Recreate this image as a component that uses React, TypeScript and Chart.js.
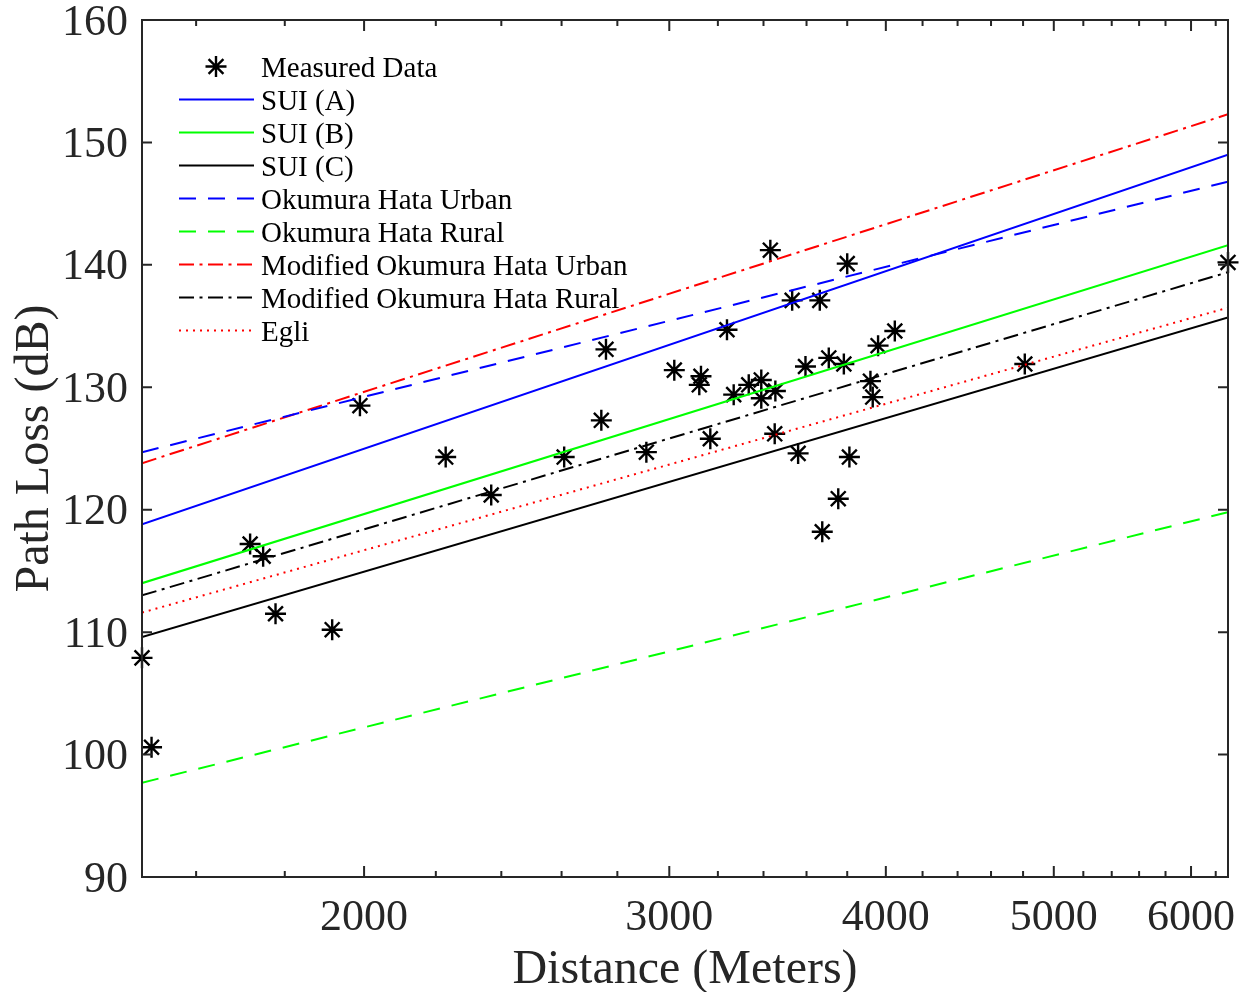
import React, { useEffect, useRef } from "react";
import { Chart, registerables } from "chart.js";

Chart.register(...registerables);

// ---------- data ----------
const distances = [
  1489, 1508, 1719, 1749, 1778, 1917, 1989, 2229, 2368, 2609, 2741, 2758, 2910, 3020,
  3122, 3129, 3168, 3239, 3268, 3334, 3390, 3390, 3454, 3451, 3431, 3532, 3560, 3595,
  3664, 3676, 3708, 3755, 3783, 3800, 3811, 3919, 3931, 3959, 4048, 4811, 6302,
];
const measuredLoss = [
  107.9, 100.6, 117.2, 116.2, 111.5, 110.2, 128.5, 124.3, 121.2, 124.3, 127.3, 133.1, 124.7, 131.4,
  130.2, 130.9, 125.8, 134.7, 129.4, 130.2, 130.6, 129.1, 129.7, 126.2, 141.2, 137.1, 124.6, 131.7,
  137.1, 118.2, 132.4, 120.9, 131.9, 140.1, 124.3, 130.5, 129.2, 133.4, 134.6, 131.9, 140.2,
];

const modelDistances = [1489, 6302];
const suiA = [118.8, 149.0];
const suiB = [114.0, 141.6];
const suiC = [109.6, 135.7];
const okumuraUrban = [124.7, 146.8];
const okumuraRural = [97.7, 119.8];
const modOkumuraUrban = [123.8, 152.3];
const modOkumuraRural = [113.0, 139.4];
const egli = [111.6, 136.5];

const xMajorTicks = [2000, 3000, 4000, 5000, 6000];
const xMinorTicks = [1600, 1800, 2200, 2400, 2600, 2800, 3200, 3400, 3600, 3800, 4200, 4400, 4600, 4800, 5200, 5400, 5600, 5800, 6200];
const yTicks = [90, 100, 110, 120, 130, 140, 150, 160];

const FONT = '"Liberation Serif", "Times New Roman", serif';
const AXIS_COLOR = "#262626";

const DASHED = [17, 12];
const DASH_DOT = [15, 5.5, 3, 5.5];
const DOTTED = [2, 5];

function drawAsterisk(ctx: CanvasRenderingContext2D, x: number, y: number, r: number) {
  const d = r * Math.SQRT1_2;
  ctx.beginPath();
  ctx.moveTo(x - r, y); ctx.lineTo(x + r, y);
  ctx.moveTo(x, y - r); ctx.lineTo(x, y + r);
  ctx.moveTo(x - d, y - d); ctx.lineTo(x + d, y + d);
  ctx.moveTo(x - d, y + d); ctx.lineTo(x + d, y - d);
  ctx.stroke();
}

const framePlugin = {
  id: "matlabFrame",
  afterDraw(chart: any) {
    const { ctx, chartArea } = chart;
    const { left, right, top, bottom } = chartArea;
    const xs = chart.scales.x;
    const ys = chart.scales.y;
    ctx.save();
    ctx.strokeStyle = AXIS_COLOR;
    ctx.lineWidth = 2;
    ctx.setLineDash([]);
    ctx.beginPath();
    const addX = (v: number, len: number) => {
      const px = xs.getPixelForValue(v);
      ctx.moveTo(px, bottom); ctx.lineTo(px, bottom - len);
      ctx.moveTo(px, top); ctx.lineTo(px, top + len);
    };
    xMajorTicks.forEach((v) => addX(v, 11));
    xMinorTicks.forEach((v) => addX(v, 6));
    yTicks.forEach((v) => {
      const py = ys.getPixelForValue(v);
      ctx.moveTo(left, py); ctx.lineTo(left + 10, py);
      ctx.moveTo(right, py); ctx.lineTo(right - 10, py);
    });
    ctx.stroke();
    ctx.strokeRect(left, top, right - left, bottom - top);
    ctx.restore();
  },
};

const LEGEND_FIRST_ROW = 67.5;
const LEGEND_ROW_STEP = 33;

const legendPlugin = {
  id: "matlabLegend",
  afterDraw(chart: any) {
    const ctx = chart.ctx as CanvasRenderingContext2D;
    ctx.save();
    ctx.font = `29px ${FONT}`;
    ctx.textBaseline = "middle";
    ctx.textAlign = "left";
    chart.data.datasets.forEach((ds: any, i: number) => {
      const yc = LEGEND_FIRST_ROW + i * LEGEND_ROW_STEP;
      if (ds.showLine === false) {
        ctx.strokeStyle = ds.borderColor;
        ctx.lineWidth = ds.pointBorderWidth;
        ctx.setLineDash([]);
        drawAsterisk(ctx, 216, yc - 1, ds.pointRadius);
      } else {
        ctx.strokeStyle = ds.borderColor;
        ctx.lineWidth = ds.borderWidth;
        ctx.setLineDash(ds.borderDash || []);
        ctx.beginPath();
        ctx.moveTo(179, yc - 1);
        ctx.lineTo(254, yc - 1);
        ctx.stroke();
        ctx.setLineDash([]);
      }
      ctx.fillStyle = "#000000";
      ctx.fillText(ds.label, 261, yc + 1.5);
    });
    ctx.restore();
  },
};

function modelSeries(label: string, values: number[], color: string, dash: number[]) {
  return {
    label,
    data: modelDistances.map((d, i) => ({ x: d, y: values[i] })),
    showLine: true,
    borderColor: color,
    backgroundColor: color,
    borderWidth: 2,
    borderDash: dash,
    pointRadius: 0,
    fill: false,
    order: 0,
  };
}

export default function App() {
  const canvasRef = useRef<HTMLCanvasElement | null>(null);

  useEffect(() => {
    const canvas = canvasRef.current;
    if (!canvas) return;
    const chart = new Chart(canvas, {
      type: "scatter",
      data: {
        datasets: [
          {
            label: "Measured Data",
            data: distances.map((d, i) => ({ x: d, y: measuredLoss[i] })),
            showLine: false,
            pointStyle: "star",
            pointRadius: 10.5,
            pointBorderWidth: 2.4,
            borderColor: "#000000",
            backgroundColor: "#000000",
            clip: false,
            order: 1,
          } as any,
          modelSeries("SUI (A)", suiA, "#0000ff", []),
          modelSeries("SUI (B)", suiB, "#00ff00", []),
          modelSeries("SUI (C)", suiC, "#000000", []),
          modelSeries("Okumura Hata Urban", okumuraUrban, "#0000ff", DASHED),
          modelSeries("Okumura Hata Rural", okumuraRural, "#00ff00", DASHED),
          modelSeries("Modified Okumura Hata Urban", modOkumuraUrban, "#ff0000", DASH_DOT),
          modelSeries("Modified Okumura Hata Rural", modOkumuraRural, "#000000", DASH_DOT),
          modelSeries("Egli", egli, "#ff0000", DOTTED),
        ],
      },
      options: {
        animation: false,
        responsive: false,
        layout: { padding: { top: 20, right: 19, left: 0, bottom: 0 } },
        plugins: {
          legend: { display: false },
          tooltip: { enabled: false },
        },
        scales: {
          x: {
            type: "logarithmic",
            position: "bottom",
            min: Math.min(...distances),
            max: Math.max(...distances),
            bounds: "data",
            grid: { display: false, drawTicks: false },
            border: { display: false },
            ticks: {
              autoSkip: false,
              maxRotation: 0,
              minRotation: 0,
              padding: 15,
              color: AXIS_COLOR,
              font: { family: FONT, size: 44 },
              callback: (v: any) => (xMajorTicks.includes(Number(v)) ? String(v) : ""),
            },
            afterBuildTicks: (s: any) => {
              s.ticks = [...xMajorTicks, ...xMinorTicks].sort((a, b) => a - b).map((v) => ({ value: v }));
            },
            afterFit: (s: any) => {
              s.height = 115;
              s.paddingLeft = 0;
              s.paddingRight = 0;
            },
            title: {
              display: true,
              text: "Distance (Meters)",
              color: AXIS_COLOR,
              font: { family: FONT, size: 48, lineHeight: 1 },
              padding: { top: 0, bottom: -2 },
            },
          },
          y: {
            type: "linear",
            min: 90,
            max: 160,
            grid: { display: false, drawTicks: false },
            border: { display: false },
            ticks: {
              stepSize: 10,
              padding: 14,
              labelOffset: 3,
              color: AXIS_COLOR,
              font: { family: FONT, size: 44 },
            },
            afterBuildTicks: (s: any) => {
              s.ticks = yTicks.map((v) => ({ value: v }));
            },
            afterFit: (s: any) => {
              s.width = 142;
              s.paddingTop = 0;
              s.paddingBottom = 0;
            },
            title: {
              display: true,
              text: "Path Loss (dB)",
              color: AXIS_COLOR,
              font: { family: FONT, size: 48, lineHeight: 1 },
              padding: { top: 11, bottom: 0 },
            },
          },
        },
      } as any,
      plugins: [framePlugin, legendPlugin],
    });
    return () => chart.destroy();
  }, []);

  return (
    <div style={{ position: "absolute", left: 0, top: 0, width: 1247, height: 992, background: "#ffffff" }}>
      <canvas ref={canvasRef} width={1247} height={992} style={{ display: "block", width: 1247, height: 992 }} />
    </div>
  );
}
